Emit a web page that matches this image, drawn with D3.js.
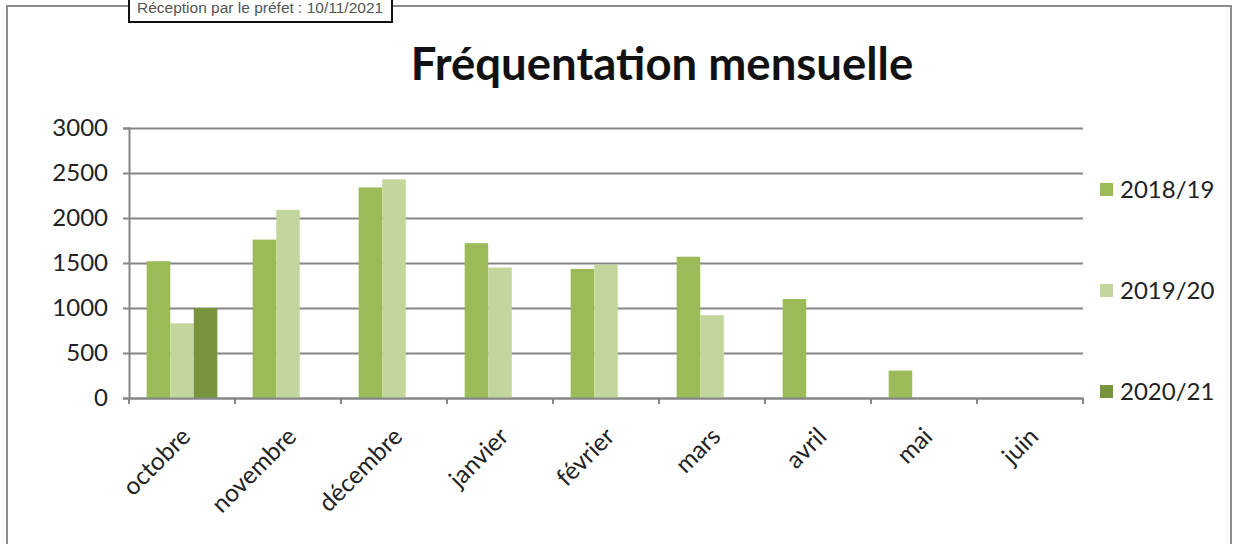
<!DOCTYPE html>
<html><head><meta charset="utf-8">
<script src="https://cdn.jsdelivr.net/npm/d3@7"></script>
<style>body{margin:0;background:#fff}svg{display:block}</style>
</head><body>
<svg id="c" width="1234" height="544"></svg>
<script>
const months = ["octobre","novembre","décembre","janvier","février","mars","avril","mai","juin"];
const seriesNames = ["2018/19","2019/20","2020/21"];
const s2018 = [1520, 1760, 2340, 1720, 1435, 1570, 1100, 305, null];
const s2019 = [830, 2090, 2430, 1450, 1480, 920, null, null, null];
const s2020 = [1000, null, null, null, null, null, null, null, null];
const yTicks = [0, 500, 1000, 1500, 2000, 2500, 3000];
const colors = ["#9bbb59", "#c3d69b", "#77933c"];

const series = [s2018, s2019, s2020];
const svg = d3.select("#c");
const font = "Lato, 'Open Sans', sans-serif";

// outer frame
svg.append("rect").attr("x",7).attr("y",6).attr("width",1224).attr("height",560)
  .attr("fill","#fff").attr("stroke","#8c8c8c").attr("stroke-width",2);

// stamp
svg.append("rect").attr("x",129).attr("y",-10).attr("width",263).attr("height",32)
  .attr("fill","#fff").attr("stroke","#111").attr("stroke-width",2);
svg.append("text").attr("x",137).attr("y",12.5).attr("font-family","Arial, 'Liberation Sans', sans-serif")
  .attr("font-size",15.5).attr("fill","#555").text("Réception par le préfet : 10/11/2021");

// title
svg.append("text").attr("x",662).attr("y",80).attr("text-anchor","middle")
  .attr("font-family",font).attr("font-weight",700).attr("font-size",45.5).attr("fill","#111")
  .text("Fréquentation mensuelle");

const x0 = d3.scaleBand().domain(months).range([129,1083]).paddingInner(0).paddingOuter(0);
const x1 = d3.scaleBand().domain(seriesNames).range([0,x0.bandwidth()]).paddingInner(0).paddingOuter(0.75);
const y = d3.scaleLinear().domain([0,3000]).range([398,128]);

// gridlines
const grid = svg.append("g").attr("transform","translate(129,0)")
  .call(d3.axisLeft(y).tickValues(yTicks).tickSize(-954).tickFormat(""));
grid.select(".domain").remove();
grid.selectAll("line").attr("stroke","#868686").attr("stroke-width",2);

// bars
const g = svg.append("g");
series.forEach((vals,si)=>{
  g.selectAll(null).data(months.map((m,i)=>({m,v:vals[i]})).filter(d=>d.v!=null))
    .enter().append("rect")
    .attr("x",d=>x0(d.m)+x1(seriesNames[si]))
    .attr("width",x1.bandwidth())
    .attr("y",d=>y(d.v))
    .attr("height",d=>y(0)-y(d.v))
    .attr("fill",colors[si]);
});

// y axis
const ya = svg.append("g").attr("transform","translate(129,0)")
  .call(d3.axisLeft(y).tickValues(yTicks).tickSize(6).tickPadding(15).tickFormat(d3.format("d")));
ya.select(".domain").attr("stroke","#868686").attr("stroke-width",2);
ya.selectAll("line").attr("stroke","#868686").attr("stroke-width",2);
ya.selectAll("text").attr("font-family",font).attr("font-size",24).attr("fill","#222");

// x axis
const xa = svg.append("g").attr("transform","translate(0,398)")
  .call(d3.axisBottom(x0).tickSize(0).tickFormat(""));
xa.select(".domain").attr("stroke","#868686").attr("stroke-width",2);
const tickPos = d3.range(months.length+1).map(i=>129 + i*x0.step());
xa.selectAll("line.tk").data(tickPos).enter().append("line").attr("class","tk")
  .attr("x1",d=>d).attr("x2",d=>d).attr("y1",0).attr("y2",6)
  .attr("stroke","#868686").attr("stroke-width",2);
xa.selectAll("text.lb").data(months).enter().append("text").attr("class","lb")
  .attr("text-anchor","end")
  .attr("transform",d=>`translate(${x0(d)+x0.bandwidth()/2+10},${40}) rotate(-45)`)
  .attr("font-family",font).attr("font-size",24.5).attr("fill","#222").text(d=>d);

// legend
const ly = [189.5, 290.5, 391.5];
const lg = svg.append("g");
seriesNames.forEach((n,i)=>{
  lg.append("rect").attr("x",1100).attr("y",ly[i]-6.5).attr("width",13).attr("height",13).attr("fill",colors[i]);
  lg.append("text").attr("x",1120).attr("y",ly[i]).attr("dy","0.36em")
    .attr("font-family",font).attr("font-size",24).attr("fill","#222").text(n);
});
</script>
</body></html>
